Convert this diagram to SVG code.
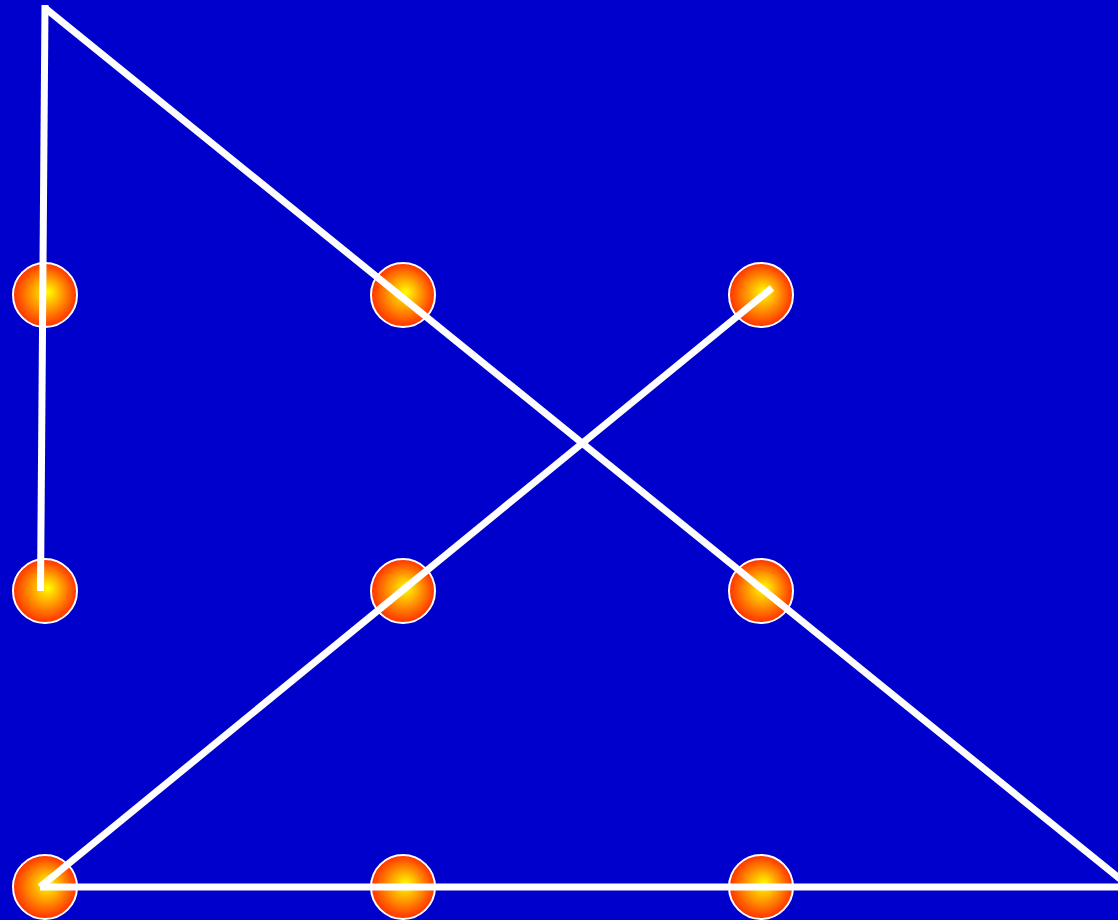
<svg xmlns="http://www.w3.org/2000/svg" width="1118" height="920" viewBox="0 0 1118 920">
<defs>
<radialGradient id="g" cx="50%" cy="50%" r="50%" fx="55%" fy="45%">
<stop offset="0" stop-color="#ffff00"/>
<stop offset="1" stop-color="#ff3000"/>
</radialGradient>
<style>
.dot{fill:url(#g);stroke:#fff;stroke-width:2}
.ln{stroke:#fff;stroke-width:7;fill:none;stroke-linecap:butt}
</style>
</defs>
<rect width="1118" height="920" fill="#0000cc"/>
<g id="dots">
<g id="d1"><circle class="dot" cx="45" cy="295" r="32"/></g>
<g id="d2"><circle class="dot" cx="403" cy="295" r="32"/></g>
<g id="d3"><circle class="dot" cx="761" cy="295" r="32"/></g>
<g id="d4"><circle class="dot" cx="45" cy="591" r="32"/></g>
<g id="d5"><circle class="dot" cx="403" cy="591" r="32"/></g>
<g id="d6"><circle class="dot" cx="761" cy="591" r="32"/></g>
<g id="d7"><circle class="dot" cx="45" cy="887" r="32"/></g>
<g id="d8"><circle class="dot" cx="403" cy="887" r="32"/></g>
<g id="d9"><circle class="dot" cx="761" cy="887" r="32"/></g>
</g>
<g id="connectors">
<line class="ln" x1="40.5" y1="591" x2="45" y2="5"/>
<line class="ln" x1="45" y1="8" x2="1130" y2="887"/>
<line class="ln" x1="1130" y1="887" x2="40" y2="887"/>
<line class="ln" x1="40" y1="887" x2="772" y2="288"/>
</g>
</svg>
